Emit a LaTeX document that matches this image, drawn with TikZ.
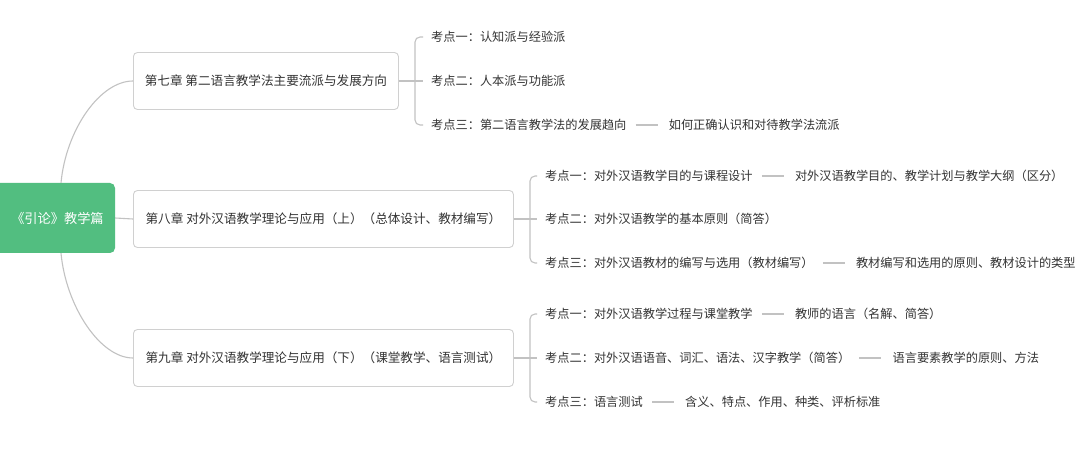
\documentclass[tikz,border=0pt]{standalone}
\usepackage{fontspec}
\setmainfont{Noto Sans CJK SC}
\definecolor{rootgreen}{HTML}{52BE80}
\definecolor{textgrey}{HTML}{333333}
\definecolor{linegrey}{HTML}{C2C2C2}
\definecolor{boxgrey}{HTML}{D0D0D0}
\begin{document}
\begin{tikzpicture}[x=1pt,y=-1pt,
  conn/.style={draw=linegrey, line width=1.1pt},
  chap/.style={draw=boxgrey, line width=0.9pt, rounded corners=4pt, fill=white,
    minimum height=57pt, text=textgrey, font=\fontsize{12.6}{15}\selectfont,
    inner xsep=8pt, anchor=west},
  item/.style={text=textgrey, font=\fontsize{12.2}{14}\selectfont, inner sep=0pt, anchor=west},
]
\useasboundingbox (0,0) rectangle (1080,457);
\fill[white] (0,0) rectangle (1080,457);

% root
\node[fill=rootgreen, rounded corners=5pt, minimum width=135pt, minimum height=70pt,
  text=white, font=\fontsize{13.2}{15}\selectfont, inner sep=0pt] (root) at (47.5,218)
  {\hspace{20pt}《引论》教学篇};

% chapters
\node[chap, minimum width=265pt] (c7) at (133,81) {第七章 第二语言教学法主要流派与发展方向};
\node[chap, minimum width=380pt] (c8) at (133,219) {第八章 对外汉语教学理论与应用（上）（总体设计、教材编写）};
\node[chap, minimum width=380pt] (c9) at (133,358) {第九章 对外汉语教学理论与应用（下）（课堂教学、语言测试）};

% root connectors
\draw[conn] ([xshift=13.5pt]root.north) .. controls +(5,-53) and +(-33,0) .. (c7.west);
\draw[conn] (root.east) -- (c8.west);
\draw[conn] ([xshift=13.5pt]root.south) .. controls +(5,53) and +(-33,0) .. (c9.west);

% chapter 7 items
\node[item] (i71) at (431,37) {考点一：认知派与经验派};
\node[item] (i72) at (431,81) {考点二：人本派与功能派};
\node[item] (i73) at (431,125) {考点三：第二语言教学法的发展趋向};
\node[item] (d73) at ([xshift=42pt]i73.east) {如何正确认识和对待教学法流派};
\coordinate (b7) at (415,81);
\draw[conn, rounded corners=5pt] ([xshift=-8pt]i71.west) -| (b7) |- ([xshift=-8pt]i73.west);
\draw[conn] (c7.east) -- ([xshift=-8pt]i72.west);
\draw[conn] ([xshift=9pt]i73.east) -- ([xshift=-11pt]d73.west);

% chapter 8 items
\node[item] (i81) at (545,176) {考点一：对外汉语教学目的与课程设计};
\node[item] (d81) at ([xshift=42pt]i81.east) {对外汉语教学目的、教学计划与教学大纲（区分）};
\node[item] (i82) at (545,219) {考点二：对外汉语教学的基本原则（简答）};
\node[item] (i83) at (545,263) {考点三：对外汉语教材的编写与选用（教材编写）};
\node[item] (d83) at ([xshift=42pt]i83.east) {教材编写和选用的原则、教材设计的类型};
\coordinate (b8) at (530,219);
\draw[conn, rounded corners=5pt] ([xshift=-8pt]i81.west) -| (b8) |- ([xshift=-8pt]i83.west);
\draw[conn] (c8.east) -- ([xshift=-8pt]i82.west);
\draw[conn] ([xshift=9pt]i81.east) -- ([xshift=-11pt]d81.west);
\draw[conn] ([xshift=9pt]i83.east) -- ([xshift=-11pt]d83.west);

% chapter 9 items
\node[item] (i91) at (545,314) {考点一：对外汉语教学过程与课堂教学};
\node[item] (d91) at ([xshift=42pt]i91.east) {教师的语言（名解、简答）};
\node[item] (i92) at (545,358) {考点二：对外汉语语音、词汇、语法、汉字教学（简答）};
\node[item] (d92) at ([xshift=42pt]i92.east) {语言要素教学的原则、方法};
\node[item] (i93) at (545,402) {考点三：语言测试};
\node[item] (d93) at ([xshift=42pt]i93.east) {含义、特点、作用、种类、评析标准};
\coordinate (b9) at (530,358);
\draw[conn, rounded corners=5pt] ([xshift=-8pt]i91.west) -| (b9) |- ([xshift=-8pt]i93.west);
\draw[conn] (c9.east) -- ([xshift=-8pt]i92.west);
\draw[conn] ([xshift=9pt]i91.east) -- ([xshift=-11pt]d91.west);
\draw[conn] ([xshift=9pt]i92.east) -- ([xshift=-11pt]d92.west);
\draw[conn] ([xshift=9pt]i93.east) -- ([xshift=-11pt]d93.west);
\end{tikzpicture}
\end{document}
